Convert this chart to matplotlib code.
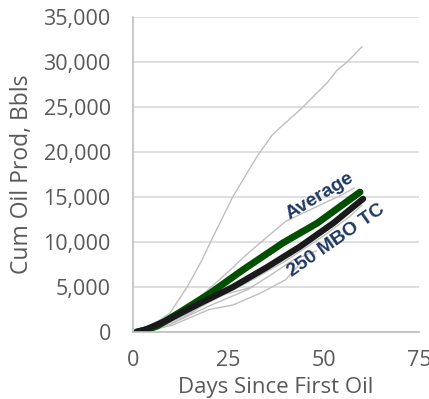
import matplotlib.pyplot as plt
import matplotlib.ticker as mticker

# individual wells (gray), days vs cum oil
well_1_days = [0, 4.5, 9.7, 14.2, 18.1, 20.2, 26, 28.8, 32.8, 36.5, 39.3, 43.8, 48.5, 50.9, 53.5, 56.1, 60]
well_1_oil = [0, 600, 2100, 5000, 8000, 9900, 14900, 16900, 19700, 21900, 23000, 24700, 26700, 27700, 29100, 30000, 31700]
well_2_days = [0, 5, 10, 15, 20, 25, 30, 35, 40, 45, 50, 55, 58]
well_2_oil = [0, 400, 1500, 3000, 4800, 6700, 8700, 10500, 12300, 13300, 14300, 15300, 16000]
well_3_days = [0, 10, 20, 30, 40, 50, 57, 60]
well_3_oil = [0, 1100, 3300, 5500, 7900, 10700, 12900, 14100]
well_4_days = [0, 10, 20, 30, 36.7, 42, 48]
well_4_oil = [0, 900, 2900, 4700, 6500, 8000, 9000]
well_5_days = [0, 10, 20, 26.2, 33.3, 40, 44]
well_5_oil = [0, 700, 2500, 3000, 4300, 5800, 7700]
well_6_days = [0, 8, 15, 20.2, 25, 31.5]
well_6_oil = [0, 500, 2000, 3600, 4300, 5000]

avg_days = [1, 3.5, 6.3, 13.1, 20.2, 28.8, 39.3, 48.3, 59.5]
avg_oil = [0, 250, 650, 2400, 4300, 6900, 9900, 12100, 15550]
tc_days = [1, 3.5, 8.9, 17.6, 26.2, 35.1, 43.8, 52.5, 60.3]
tc_oil = [0, 300, 1300, 3200, 5000, 7200, 9500, 12100, 14800]

wells = [(well_1_days, well_1_oil), (well_2_days, well_2_oil), (well_3_days, well_3_oil),
         (well_4_days, well_4_oil), (well_5_days, well_5_oil), (well_6_days, well_6_oil)]

fig = plt.figure(figsize=(4.29, 3.99), dpi=100)
ax = fig.add_axes([0.31, 0.168, 0.667, 0.789])

for d, v in wells:
    ax.plot(d, v, color='#BFBFBF', lw=1)
ax.plot(avg_days, avg_oil, color='#005000', lw=5, solid_capstyle='round')
ax.plot(tc_days, tc_oil, color='#1A1A1A', lw=4.5, solid_capstyle='round')

ax.set_xlim(0, 75)
ax.set_ylim(0, 35000)
ax.xaxis.set_major_locator(mticker.MultipleLocator(25))
ax.yaxis.set_major_locator(mticker.MultipleLocator(5000))
ax.yaxis.set_major_formatter(mticker.StrMethodFormatter('{x:,.0f}'))
ax.grid(axis='y', color='#D9D9D9', lw=1.2)
ax.set_axisbelow(True)
for s in ['top', 'right']:
    ax.spines[s].set_visible(False)
for s in ['left', 'bottom']:
    ax.spines[s].set_color('#BFBFBF')
    ax.spines[s].set_linewidth(1.2)
ax.tick_params(length=0, labelsize=15.5, labelcolor='#595959')
ax.tick_params(axis='y', pad=16)
ax.tick_params(axis='x', pad=13)
for lbl in ax.get_xticklabels() + ax.get_yticklabels():
    lbl.set_family('Open Sans')

ax.set_xlabel('Days Since First Oil', fontsize=16, color='#595959', family='Open Sans', labelpad=4)
ax.set_ylabel('Cum Oil Prod, Bbls', fontsize=16.5, color='#595959', family='Open Sans', labelpad=7)

ax.text(49, 15100, 'Average', rotation=31, color='#1F3864', fontsize=14,
        fontweight='bold', family='Liberation Sans', ha='center', va='center')
ax.text(53.2, 10200, '250 MBO TC', rotation=35, color='#1F3864', fontsize=14,
        fontweight='bold', family='Liberation Sans', ha='center', va='center')

fig.savefig('out.png', dpi=100)
